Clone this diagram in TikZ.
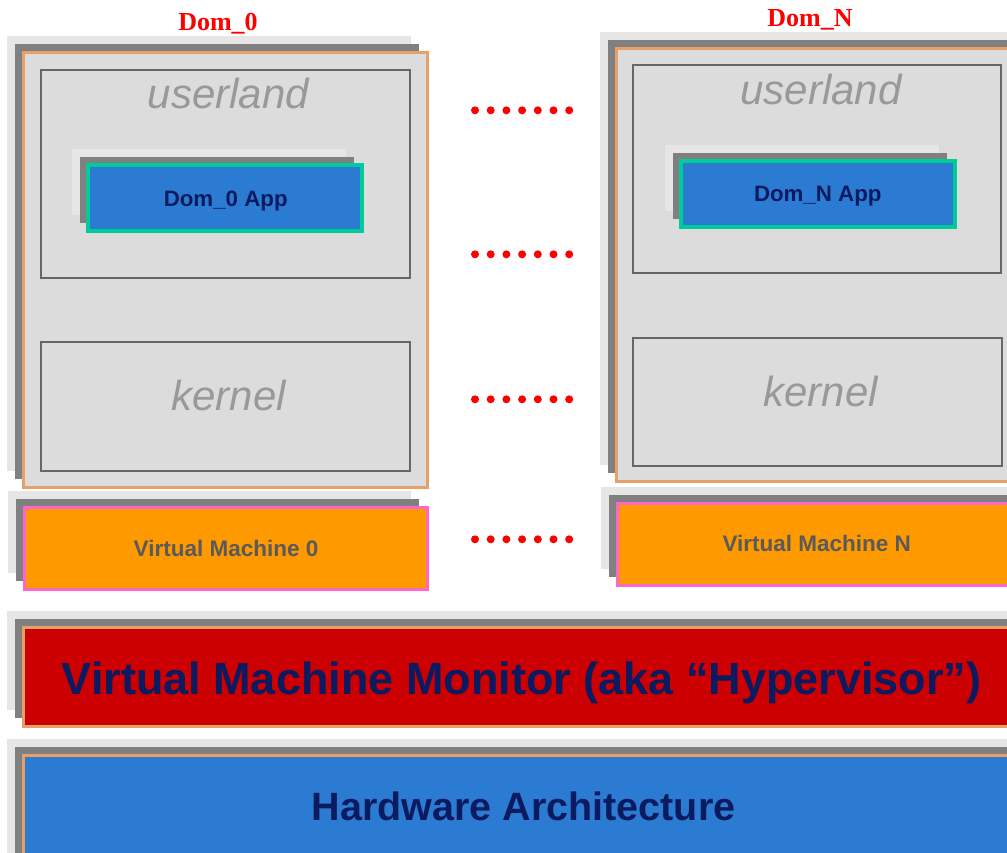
\documentclass[tikz,border=0pt]{standalone}
\usepackage{fontspec}
\setmainfont{Liberation Sans}
\newfontfamily\domfont{Liberation Serif}
\usetikzlibrary{calc,fit}

\definecolor{backgrey}{HTML}{E6E6E6}
\definecolor{midgrey}{HTML}{808080}
\definecolor{domfill}{HTML}{DCDCDC}
\definecolor{domedge}{HTML}{E9A066}
\definecolor{boxedge}{HTML}{666666}
\definecolor{appblue}{HTML}{2B7BD3}
\definecolor{appedge}{HTML}{00CC99}
\definecolor{vmorange}{HTML}{FF9900}
\definecolor{vmedge}{HTML}{FF66CC}
\definecolor{vmmred}{HTML}{CC0000}
\definecolor{navytext}{HTML}{0C1A60}
\definecolor{ghosttext}{HTML}{999999}
\definecolor{vmtext}{HTML}{5A5A5A}
\definecolor{dotred}{HTML}{FF0000}

% three stacked sheets: back, middle, front node
\newcommand\stacked[4]{%
  \fill[backlayer] ($(#2)+(-16,-16)$) rectangle ($(#3)+(-16,-16)$);
  \fill[midlayer] ($(#2)+(-8,-8)$) rectangle ($(#3)+(-8,-8)$);
  \node[#4, inner sep=0pt, fit={(#2) (#3)}] (#1) {};
}

\tikzset{
  backlayer/.style={fill=backgrey},
  midlayer/.style={fill=midgrey},
  domframe/.style={fill=domfill, draw=domedge, line width=3pt},
  spacebox/.style={draw=boxedge, line width=1.8pt, fill=domfill},
  appbox/.style={fill=appblue, draw=appedge, line width=3.5pt},
  vmbox/.style={fill=vmorange, draw=vmedge, line width=3pt},
  vmmbox/.style={fill=vmmred, draw=domedge, line width=3pt},
  hwbox/.style={fill=appblue, draw=domedge, line width=3pt},
  domlabel/.style={anchor=base, inner sep=0pt, text=dotred,
    font=\domfont\bfseries\fontsize{26pt}{30pt}\selectfont},
  spacelabel/.style={anchor=base, inner sep=0pt, text=ghosttext,
    font=\itshape\fontsize{42pt}{48pt}\selectfont},
  applabel/.style={anchor=base, inner sep=0pt, text=navytext,
    font=\bfseries\fontsize{22.3pt}{26pt}\selectfont},
  vmlabel/.style={anchor=base, inner sep=0pt, text=vmtext,
    font=\bfseries\fontsize{22.5pt}{26pt}\selectfont},
}

\begin{document}
\begin{tikzpicture}[x=1pt, y=-1pt]
  \useasboundingbox (0,0) rectangle (1007,852);
  \clip (0,0) rectangle (1007,852);

  % domains
  \stacked{dom0}{23,52}{427,487}{domframe}
  \stacked{domN}{616,48}{1040,481}{domframe}
  \node[spacebox, inner sep=0pt, fit={(41,70) (410,278)}] (user0) {};
  \node[spacebox, inner sep=0pt, fit={(41,342) (410,471)}] (kern0) {};
  \node[spacebox, inner sep=0pt, fit={(633,65) (1001,273)}] (userN) {};
  \node[spacebox, inner sep=0pt, fit={(633,338) (1002,466)}] (kernN) {};
  \node[domlabel] (dom0lbl) at (218,30) {Dom\_0};
  \node[domlabel] (domNlbl) at (810,26) {Dom\_N};
  \node[spacelabel] (user0lbl) at (228.5,108) {userland};
  \node[spacelabel] (userNlbl) at (821,104) {userland};
  \node[spacelabel] (kern0lbl) at (228.7,410) {kernel};
  \node[spacelabel] (kernNlbl) at (820.5,406) {kernel};

  % applications
  \stacked{app0}{88,165}{362,231}{appbox}
  \stacked{appN}{681,161}{955,227}{appbox}
  \node[applabel] (app0lbl) at (225.7,206.7) {Dom\_0 App};
  \node[applabel] (appNlbl) at (817.8,201.7) {Dom\_N App};

  % virtual machines
  \stacked{vm0}{24,507}{427,589}{vmbox}
  \stacked{vmN}{617,503}{1040,585}{vmbox}
  \node[vmlabel] (vm0lbl) at (226,556.7) {Virtual Machine 0};
  \node[vmlabel] (vmNlbl) at (816.7,551.7) {Virtual Machine N};

  % monitor and hardware
  \stacked{vmm}{23,627}{1040,726}{vmmbox}
  \stacked{hw}{23,755}{1040,880}{hwbox}
  \node[anchor=base, inner sep=0pt, text=navytext,
    font=\bfseries\fontsize{45pt}{52pt}\selectfont] (vmmlbl) at (521.5,694)
    {Virtual Machine Monitor (aka “Hypervisor”)};
  \node[anchor=base, inner sep=0pt, text=navytext,
    font=\bfseries\fontsize{39.5pt}{46pt}\selectfont] (hwlbl) at (523.7,820.7)
    {Hardware Architecture};

  % ellipsis dots between the domains
  \foreach \y in {110.3,254.3,399.3,539.3}
    \foreach \i in {0,...,6}
      \fill[dotred] (475+15.7*\i,\y) circle (4);
\end{tikzpicture}
\end{document}
